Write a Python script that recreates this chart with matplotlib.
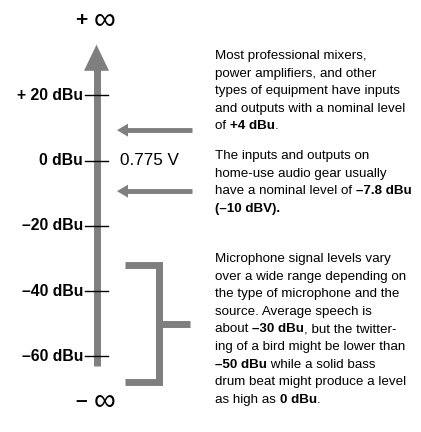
import matplotlib
matplotlib.use("Agg")
import matplotlib.pyplot as plt

# scale marks (dBu)
tick_levels = [20, 0, -20, -40, -60]
tick_labels = ["+ 20 dBu", "0 dBu", "\u201320 dBu", "\u201340 dBu", "\u201360 dBu"]
axis_bottom, axis_top = -63, 35
pointer_levels = [9.3, -9.4]
mic_range = [-32, -68]
mic_mid = -50

notes = [
    [[("Most professional mixers,", False)],
     [("power amplifiers, and other", False)],
     [("types of equipment have inputs", False)],
     [("and outputs with a nominal level", False)],
     [("of ", False), ("+4 dBu", True), (".", False)]],
    [[("The inputs and outputs on", False)],
     [("home-use audio gear usually", False)],
     [("have a nominal level of ", False), ("\u20137.8 dBu", True)],
     [("(\u201310 dBV).", True)]],
    [[("Microphone signal levels vary", False)],
     [("over a wide range depending on", False)],
     [("the type of microphone and the", False)],
     [("source. Average speech is", False)],
     [("about ", False), ("\u201330 dBu", True), (", but the twitter-", False)],
     [("ing of a bird might be lower than", False)],
     [("\u201350 dBu", True), (" while a solid bass", False)],
     [("drum beat might produce a level", False)],
     [("as high as ", False), ("0 dBu", True), (".", False)]],
]
note_tops = [56, 156, 259]

W, H = 421, 432
PX = 3.2625  # pixels per dB
Y0 = 160.5   # pixel row of 0 dBu

fig = plt.figure(figsize=(W / 100, H / 100), dpi=100)
ax = fig.add_axes([0, 0, 1, 1])
ax.set_xlim(0, W)
ax.set_ylim((Y0 - H) / PX, Y0 / PX)
ax.axis("off")

grey = "#7f7f7f"
sans = "Liberation Sans"

# main vertical arrow
ax.plot([96.5, 96.5], [axis_bottom, axis_top - 7], color=grey, lw=5, solid_capstyle="butt")
ax.fill([84, 109, 96.5], [axis_top - 7.5, axis_top - 7.5, axis_top + 0.5], color=grey, lw=0)

for lv, lab in zip(tick_levels, tick_labels):
    ax.plot([85, 108], [lv, lv], color="black", lw=1)
    ax.text(83, lv, lab, ha="right", va="center", fontsize=11.3, fontweight="bold",
            family=sans)

# infinity ends of the scale
for sign, ypx in [("+", 20), ("\u2013", 401)]:
    ax.text(81, (Y0 - ypx) / PX, sign, ha="center", va="center", fontsize=15,
            fontweight="bold", family=sans)
    ax.text(105, (Y0 - ypx) / PX, "\u221e", ha="center", va="center", fontsize=22,
            family=sans)

ax.text(120, 0, "0.775 V", ha="left", va="center", fontsize=12.3, family=sans)

# pointer arrows
for lv in pointer_levels:
    ax.plot([127, 192], [lv, lv], color=grey, lw=3.5, solid_capstyle="butt")
    ax.fill([117, 128, 128], [lv, lv + 6.5 / PX, lv - 6.5 / PX], color=grey, lw=0)

# microphone bracket
top, bot = mic_range
ax.plot([125, 158.5, 158.5, 125], [top, top, bot, bot], color=grey, lw=5,
        solid_joinstyle="miter", solid_capstyle="butt")
ax.plot([158.5, 190], [mic_mid, mic_mid], color=grey, lw=5, solid_capstyle="butt")

# notes with inline bold
renderer = fig.canvas.get_renderer()


def seg_width(s, bold):
    def w(txt):
        t = fig.text(0, 0, txt, fontsize=9.6, fontweight="bold" if bold else "normal",
                     family=sans)
        v = t.get_window_extent(renderer).width
        t.remove()
        return v
    return w("x" + s + "x") - w("xx")


for top_px, block in zip(note_tops, notes):
    for i, line in enumerate(block):
        y = top_px + i * 17.6
        x = 215
        for s, bold in line:
            fig.text(x / W, 1 - y / H, s, fontsize=9.6, va="center",
                     fontweight="bold" if bold else "normal", family=sans)
            x += seg_width(s, bold)

fig.savefig("out.png", dpi=100)
